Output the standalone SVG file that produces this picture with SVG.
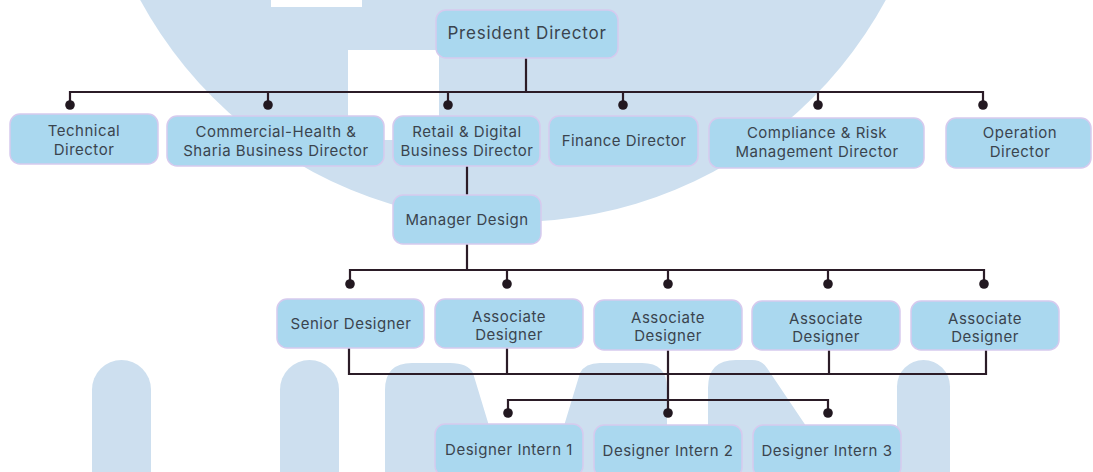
<svg xmlns="http://www.w3.org/2000/svg" width="1093" height="472" viewBox="0 0 1093 472">
<style>
.bg{fill:#CDDFEF}
.box{fill:#AAD8EF;stroke:#D6CAEE;stroke-width:1.5}
.t{font-family:Inter,"Noto Sans","Liberation Sans",sans-serif;font-size:15px;fill:#3A444E;text-anchor:middle;letter-spacing:0.5px}
.big{font-size:17px;letter-spacing:0.8px}
.ln{fill:none;stroke:#2B1C27;stroke-width:2.2;stroke-linejoin:miter}
.dot{fill:#221820}
</style>
<rect width="1093" height="472" fill="#FFFFFF"/>
<g id="watermark">
<circle class="bg" cx="513" cy="-202" r="424"/>
<rect x="271" y="0" width="91" height="7" fill="#FFFFFF"/>
<rect x="348" y="50" width="91" height="90" fill="#FFFFFF"/>
<path class="bg" d="M92,472 V389.5 A29.5,29.5 0 0 1 151,389.5 V472 Z"/>
<path class="bg" d="M280,472 V389.5 A29.5,29.5 0 0 1 339,389.5 V472 Z"/>
<path class="bg" d="M385,472 V390 Q385,363 412,363 H450 Q468,363 473,373 L503,472 H550 L580,373 Q585,363 600,363 H642 Q667,363 667,388 V472 Z"/>
<path class="bg" d="M708,472 V388 Q708,360 736,360 H752 Q762,360 767,368 L837,472 Z"/>
<path class="bg" d="M897,472 V386.5 A26.5,26.5 0 0 1 950,386.5 V472 Z"/>
</g>
<g id="connectors">
<path class="ln" d="M526,58 V92"/>
<path class="ln" d="M70,105 V92 H983 V105"/>
<path class="ln" d="M268,92 V105 M448,92 V105 M623,92 V105 M818,92 V105"/>
<path class="ln" d="M467,166 V195"/>
<path class="ln" d="M467,244 V270"/>
<path class="ln" d="M350,284 V270 H984 V284"/>
<path class="ln" d="M507,270 V284 M668,270 V284 M828,270 V284"/>
<path class="ln" d="M349,348 V374 H986 V350"/>
<path class="ln" d="M507,348 V374 M829,350 V374 M668,350 V413"/>
<path class="ln" d="M508,413 V400 H828 V413"/>
<circle class="dot" cx="70" cy="105" r="4.8"/>
<circle class="dot" cx="268" cy="105" r="4.8"/>
<circle class="dot" cx="448" cy="105" r="4.8"/>
<circle class="dot" cx="623" cy="105" r="4.8"/>
<circle class="dot" cx="818" cy="105" r="4.8"/>
<circle class="dot" cx="983" cy="105" r="4.8"/>
<circle class="dot" cx="350" cy="284" r="4.8"/>
<circle class="dot" cx="507" cy="284" r="4.8"/>
<circle class="dot" cx="668" cy="284" r="4.8"/>
<circle class="dot" cx="828" cy="284" r="4.8"/>
<circle class="dot" cx="984" cy="284" r="4.8"/>
<circle class="dot" cx="508" cy="413" r="4.8"/>
<circle class="dot" cx="668" cy="413" r="4.8"/>
<circle class="dot" cx="828" cy="413" r="4.8"/>
</g>
<g id="president">
<rect class="box" x="436" y="10" width="182" height="48" rx="10"/>
<text class="t big" x="527" y="39">President Director</text>
</g>
<g id="technical">
<rect class="box" x="10" y="114" width="148" height="50" rx="10"/>
<text class="t" x="84" y="136">Technical</text>
<text class="t" x="84" y="155">Director</text>
</g>
<g id="commercial">
<rect class="box" x="167" y="116" width="217" height="50" rx="10"/>
<text class="t" x="276" y="137">Commercial-Health &amp;</text>
<text class="t" x="276" y="156">Sharia Business Director</text>
</g>
<g id="retail">
<rect class="box" x="393" y="116" width="147" height="50" rx="10"/>
<text class="t" x="467" y="137">Retail &amp; Digital</text>
<text class="t" x="467" y="156">Business Director</text>
</g>
<g id="finance">
<rect class="box" x="549" y="116" width="149" height="50" rx="10"/>
<text class="t" x="624" y="146">Finance Director</text>
</g>
<g id="compliance">
<rect class="box" x="709" y="118" width="215" height="50" rx="10"/>
<text class="t" x="817" y="138">Compliance &amp; Risk</text>
<text class="t" x="817" y="157">Management Director</text>
</g>
<g id="operation">
<rect class="box" x="946" y="118" width="145" height="50" rx="10"/>
<text class="t" x="1020" y="138">Operation</text>
<text class="t" x="1020" y="157">Director</text>
</g>
<g id="manager">
<rect class="box" x="393" y="195" width="148" height="49" rx="10"/>
<text class="t" x="467" y="225">Manager Design</text>
</g>
<g id="senior">
<rect class="box" x="277" y="299" width="147" height="49" rx="10"/>
<text class="t" x="351" y="329">Senior Designer</text>
</g>
<g id="associate1">
<rect class="box" x="435" y="299" width="148" height="49" rx="10"/>
<text class="t" x="509" y="322">Associate</text>
<text class="t" x="509" y="340">Designer</text>
</g>
<g id="associate2">
<rect class="box" x="594" y="300" width="148" height="50" rx="10"/>
<text class="t" x="668" y="323">Associate</text>
<text class="t" x="668" y="341">Designer</text>
</g>
<g id="associate3">
<rect class="box" x="752" y="301" width="148" height="49" rx="10"/>
<text class="t" x="826" y="324">Associate</text>
<text class="t" x="826" y="342">Designer</text>
</g>
<g id="associate4">
<rect class="box" x="911" y="301" width="148" height="49" rx="10"/>
<text class="t" x="985" y="324">Associate</text>
<text class="t" x="985" y="342">Designer</text>
</g>
<g id="intern1">
<rect class="box" x="435" y="424" width="148" height="52" rx="10"/>
<text class="t" x="509" y="455">Designer Intern 1</text>
</g>
<g id="intern2">
<rect class="box" x="594" y="425" width="148" height="52" rx="10"/>
<text class="t" x="668" y="456">Designer Intern 2</text>
</g>
<g id="intern3">
<rect class="box" x="753" y="425" width="148" height="52" rx="10"/>
<text class="t" x="827" y="456">Designer Intern 3</text>
</g>
</svg>
